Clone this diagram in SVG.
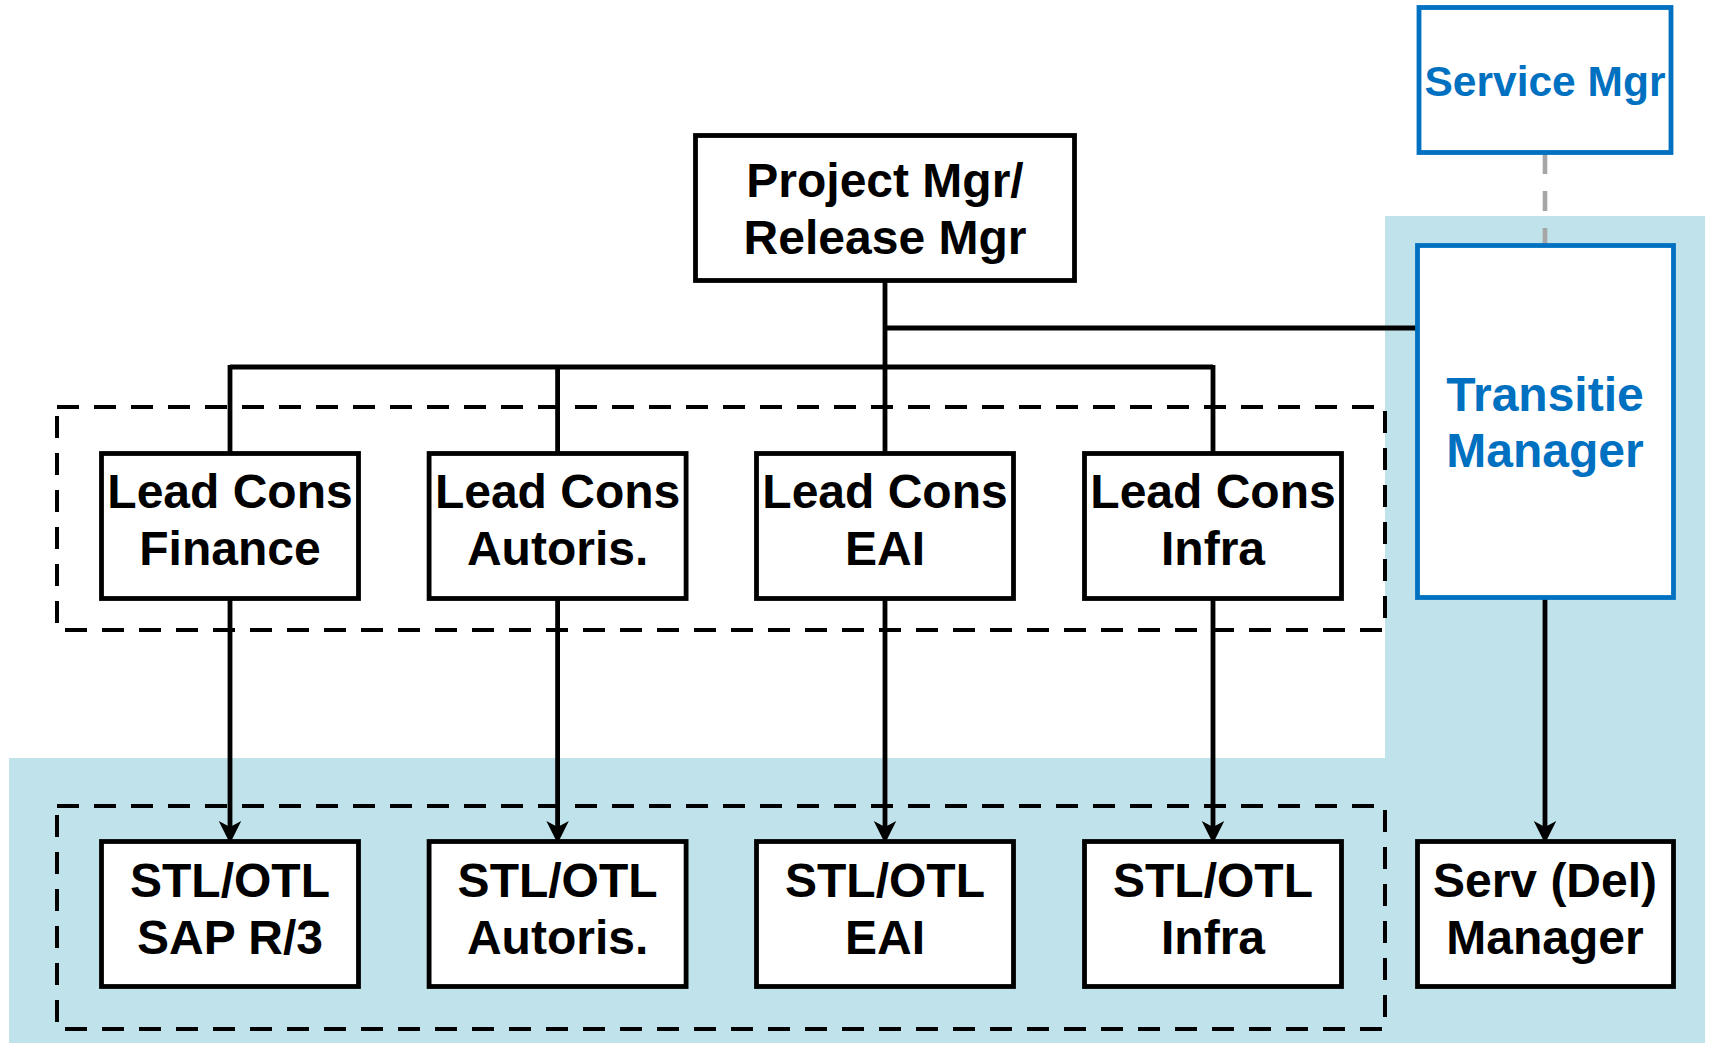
<svg xmlns="http://www.w3.org/2000/svg" width="1712" height="1043" viewBox="0 0 1712 1043">
  <style>
    .box { fill: #ffffff; stroke: #000000; stroke-width: 4.8; }
    .bluebox { fill: #ffffff; stroke: #0070c0; stroke-width: 4.8; }
    .lbl { font-family: "Liberation Sans", Arial, sans-serif; font-weight: bold; font-size: 48px; fill: #000000; text-anchor: middle; }
    .blue { fill: #0070c0; }
    .wire { fill: none; stroke: #000000; stroke-width: 4.8; }
    .group { fill: none; stroke: #000000; stroke-width: 4; stroke-dasharray: 22 15; }
  </style>
  <defs>
    <marker id="arrow" markerUnits="userSpaceOnUse" markerWidth="30" markerHeight="30" viewBox="-10 -10 20 20" refX="0" refY="0" orient="auto" overflow="visible">
      <path d="M9,0 L-6,-7.5 L-2,0 L-6,7.5 Z" fill="#000000"/>
    </marker>
  </defs>

  <rect width="1712" height="1043" fill="#ffffff"/>

  <!-- shaded operations area (L-shaped) -->
  <path d="M1385,216 H1705 V1043 H9 V758 H1385 Z" fill="#c0e2ea"/>

  <!-- dashed groupings -->
  <rect class="group" x="57" y="407" width="1328" height="223"/>
  <rect class="group" x="57" y="806" width="1328" height="223"/>

  <g id="connectors">
    <line class="wire" x1="885" y1="280" x2="885" y2="454"/>
    <line class="wire" x1="885" y1="328" x2="1418" y2="328"/>
    <line class="wire" x1="230" y1="367" x2="1213" y2="367"/>
    <line class="wire" x1="230" y1="365" x2="230" y2="454"/>
    <line class="wire" x1="557.6" y1="367" x2="557.6" y2="454"/>
    <line class="wire" x1="1213" y1="365" x2="1213" y2="454"/>
    <line x1="1545" y1="154" x2="1545" y2="245" stroke="#a6a6a6" stroke-width="4.6" stroke-dasharray="20 17"/>
    <line class="wire" x1="230" y1="598" x2="230" y2="830" marker-end="url(#arrow)"/>
    <line class="wire" x1="557.6" y1="598" x2="557.6" y2="830" marker-end="url(#arrow)"/>
    <line class="wire" x1="885" y1="598" x2="885" y2="830" marker-end="url(#arrow)"/>
    <line class="wire" x1="1213" y1="598" x2="1213" y2="830" marker-end="url(#arrow)"/>
    <line class="wire" x1="1545" y1="598" x2="1545" y2="830" marker-end="url(#arrow)"/>
  </g>

  <g id="service-mgr">
    <rect class="bluebox" x="1419" y="7.5" width="252" height="145"/>
    <text class="lbl blue" x="1545" y="96" style="font-size:42.5px">Service Mgr</text>
  </g>

  <g id="project-mgr">
    <rect class="box" x="695.5" y="135.5" width="379" height="145"/>
    <text class="lbl" x="885" y="197">Project Mgr/</text>
    <text class="lbl" x="885" y="254">Release Mgr</text>
  </g>

  <g id="transitie-manager">
    <rect class="bluebox" x="1417.5" y="245.5" width="256" height="352"/>
    <text class="lbl blue" x="1545" y="411">Transitie</text>
    <text class="lbl blue" x="1545" y="467">Manager</text>
  </g>

  <g id="lead-finance">
    <rect class="box" x="101.5" y="453.5" width="257" height="145"/>
    <text class="lbl" x="230" y="508">Lead Cons</text>
    <text class="lbl" x="230" y="565">Finance</text>
  </g>
  <g id="lead-autoris">
    <rect class="box" x="429.1" y="453.5" width="257" height="145"/>
    <text class="lbl" x="557.6" y="508">Lead Cons</text>
    <text class="lbl" x="557.6" y="565">Autoris.</text>
  </g>
  <g id="lead-eai">
    <rect class="box" x="756.5" y="453.5" width="257" height="145"/>
    <text class="lbl" x="885" y="508">Lead Cons</text>
    <text class="lbl" x="885" y="565">EAI</text>
  </g>
  <g id="lead-infra">
    <rect class="box" x="1084.5" y="453.5" width="257" height="145"/>
    <text class="lbl" x="1213" y="508">Lead Cons</text>
    <text class="lbl" x="1213" y="565">Infra</text>
  </g>

  <g id="stl-sap">
    <rect class="box" x="101.5" y="841.5" width="257" height="145"/>
    <text class="lbl" x="230" y="897">STL/OTL</text>
    <text class="lbl" x="230" y="954">SAP R/3</text>
  </g>
  <g id="stl-autoris">
    <rect class="box" x="429.1" y="841.5" width="257" height="145"/>
    <text class="lbl" x="557.6" y="897">STL/OTL</text>
    <text class="lbl" x="557.6" y="954">Autoris.</text>
  </g>
  <g id="stl-eai">
    <rect class="box" x="756.5" y="841.5" width="257" height="145"/>
    <text class="lbl" x="885" y="897">STL/OTL</text>
    <text class="lbl" x="885" y="954">EAI</text>
  </g>
  <g id="stl-infra">
    <rect class="box" x="1084.5" y="841.5" width="257" height="145"/>
    <text class="lbl" x="1213" y="897">STL/OTL</text>
    <text class="lbl" x="1213" y="954">Infra</text>
  </g>

  <g id="serv-del-manager">
    <rect class="box" x="1417.5" y="841.5" width="256" height="145"/>
    <text class="lbl" x="1545" y="897">Serv (Del)</text>
    <text class="lbl" x="1545" y="954">Manager</text>
  </g>
</svg>
